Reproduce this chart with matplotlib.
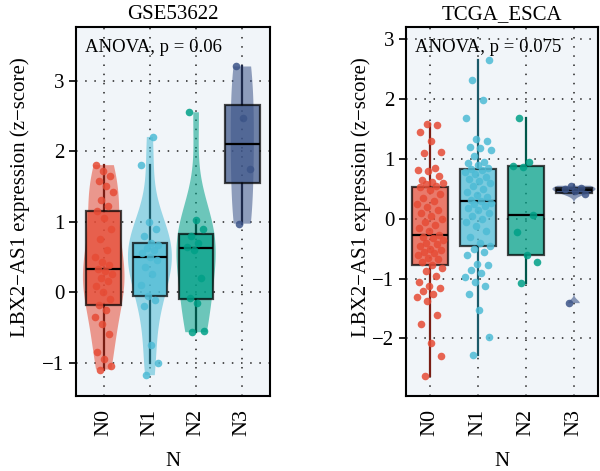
import matplotlib.pyplot as plt
import numpy as np

plt.rcParams["font.family"] = ["Liberation Serif", "DejaVu Serif"]

groups = ["N0", "N1", "N2", "N3"]
fills = ["#E64B35", "#4DBBD5", "#00A087", "#3C5488"]
darks = ["#7A1E14", "#1B5A69", "#00574A", "#1E2A4C"]

# GSE53622 values (z-score)
gse_n0 = [-1.1, -1.05, -0.95, -0.85, -0.6, -0.45, -0.35, -0.25, -0.18,
          -0.1, 0.0, 0.08, 0.15, 0.2, 0.25, 0.3, 0.32,
          0.38, 0.42, 0.5, 0.6, 0.75, 0.9, 1.05, 1.15,
          1.22, 1.3, 1.42, 1.5, 1.58, 1.65, 1.72, 1.8]
gse_n1 = [-1.18, -1.0, -0.75, -0.2, -0.12, -0.05, 0.1, 0.25, 0.35, 0.45, 0.5,
          0.55, 0.6, 0.63, 0.67, 0.7, 0.8, 0.9, 1.0, 1.8, 2.2]
gse_n2 = [-0.57, -0.55, -0.15, -0.08, 0.2, 0.6, 0.64, 0.7, 0.8, 0.9, 1.02, 2.55]
gse_n3 = [0.97, 1.74, 2.47, 3.2]

# TCGA_ESCA values
tcga_n0 = [-2.62, -2.3, -2.08, -1.75, -1.6, -1.38, -1.3, -1.25, -1.2, -1.15,
           -1.12, -1.05, -0.95, -0.88, -0.82, -0.78,
           -0.72, -0.68, -0.65, -0.6, -0.58, -0.55, -0.52, -0.5, -0.45, -0.42,
           -0.4, -0.36, -0.33, -0.3, -0.28,
           -0.2, -0.15, -0.1, -0.05, 0.0, 0.05, 0.1, 0.15, 0.2, 0.25, 0.3,
           0.35, 0.42, 0.48, 0.53,
           0.55, 0.58, 0.6, 0.62, 0.65, 0.72, 0.8, 0.82, 0.85, 1.1, 1.12,
           1.3, 1.45, 1.57, 1.58]
tcga_n1 = [-2.28, -1.97, -1.52, -1.25, -1.12, -1.05, -0.98, -0.9, -0.85,
           -0.78, -0.75, -0.6, -0.55, -0.5, -0.45,
           -0.4, -0.3, -0.2, -0.12, -0.05, 0.0, 0.05, 0.1, 0.15, 0.18, 0.22,
           0.25, 0.27, 0.29,
           0.32, 0.36, 0.4, 0.45, 0.5, 0.55, 0.6, 0.63, 0.67, 0.7, 0.74,
           0.78, 0.81, 0.83,
           0.85, 0.9, 0.93, 0.95, 1.05, 1.15, 1.18, 1.2, 1.3, 1.33, 1.68,
           1.98, 2.32, 2.65]
tcga_n2 = [-1.07, -0.72, -0.6, -0.22, 0.06, 0.87, 0.88, 0.95, 1.68]
tcga_n3 = [-1.41, 0.42, 0.46, 0.5, 0.52, 0.55]

gse = [gse_n0, gse_n1, gse_n2, gse_n3]
tcga = [tcga_n0, tcga_n1, tcga_n2, tcga_n3]

BG = "#F1F5F9"


def jitter(n, spread):
    # evenly scattered offsets (golden ratio sequence), not data
    return ((np.arange(n) * 0.618034 + 0.3) % 1 - 0.5) * 2 * spread


def style_axes(ax, title, ylim, xlim, anova, label_x):
    ax.set_facecolor(BG)
    ax.set_xlim(*xlim)
    ax.set_ylim(*ylim)
    ax.set_xticks(range(4))
    ax.set_xticklabels(groups, rotation=90, fontsize=16)
    ax.tick_params(axis="x", length=0, pad=9)
    ax.tick_params(axis="y", length=5, width=1.2, labelsize=15, direction="out")
    ax.grid(True, linestyle=(0, (1, 5)), color="#222222", linewidth=1.1)
    ax.set_axisbelow(True)
    for s in ax.spines.values():
        s.set_linewidth(1.5)
    ax.set_title(title, fontsize=15, pad=6)
    ax.set_xlabel("N", fontsize=15, labelpad=12)
    ax.set_ylabel("LBX2\u2212AS1 expression (z\u2212score)", fontsize=15)
    ax.yaxis.set_label_coords(label_x, 0.54)
    ax.text(0.045, 0.945, anova, transform=ax.transAxes, fontsize=13.5,
            va="center", ha="left")


def draw_boxes(ax, data, alpha):
    bp = ax.boxplot(data, positions=range(4), widths=0.75, patch_artist=True,
                    showfliers=False, showcaps=False, zorder=3,
                    medianprops=dict(color="black", linewidth=1.6))
    for i, patch in enumerate(bp["boxes"]):
        patch.set_facecolor(fills[i])
        patch.set_alpha(alpha)
        patch.set_edgecolor("black")
        patch.set_linewidth(1.6)
    for i, w in enumerate(bp["whiskers"]):
        w.set_color(darks[i // 2])
        w.set_linewidth(1.6)
        w.set_zorder(2.5)


def draw_points(ax, data, spread, size):
    for i, vals in enumerate(data):
        xs = i + jitter(len(vals), spread)
        ax.scatter(xs, vals, s=size, color=fills[i], alpha=0.85,
                   linewidths=0, zorder=4)


fig = plt.figure(figsize=(6, 4.71), dpi=100)
ax1 = fig.add_axes([76 / 600, 75 / 471, 194 / 600, 369 / 471])
ax2 = fig.add_axes([406 / 600, 75 / 471, 192 / 600, 369 / 471])

# left panel: violins + boxes + points
vwidths = [0.9, 0.95, 0.85, 0.5]
vbw = ["scott", "scott", "scott", 0.6]
for i, vals in enumerate(gse):
    parts = ax1.violinplot([vals], positions=[i], widths=vwidths[i],
                           showextrema=False, bw_method=vbw[i])
    for body in parts["bodies"]:
        body.set_facecolor(fills[i])
        body.set_edgecolor("none")
        body.set_alpha(0.55)
        body.set_zorder(2)
draw_boxes(ax1, gse, 0.72)
draw_points(ax1, gse, 0.2, 30)
style_axes(ax1, "GSE53622", (-1.475, 3.76), (-0.6, 3.6), "ANOVA, p = 0.06",
           -0.235)

# right panel: boxes + points, small violin for N3
parts = ax2.violinplot([tcga_n3], positions=[3], widths=0.9,
                       showextrema=False, bw_method=0.07)
for body in parts["bodies"]:
    body.set_facecolor(fills[3])
    body.set_edgecolor("none")
    body.set_alpha(0.6)
    body.set_zorder(2)
draw_boxes(ax2, tcga, 0.72)
draw_points(ax2, tcga, 0.28, 30)
style_axes(ax2, "TCGA_ESCA", (-2.96, 3.2), (-0.5, 3.5), "ANOVA, p = 0.075",
           -0.18)

fig.savefig("out.png", dpi=100)
